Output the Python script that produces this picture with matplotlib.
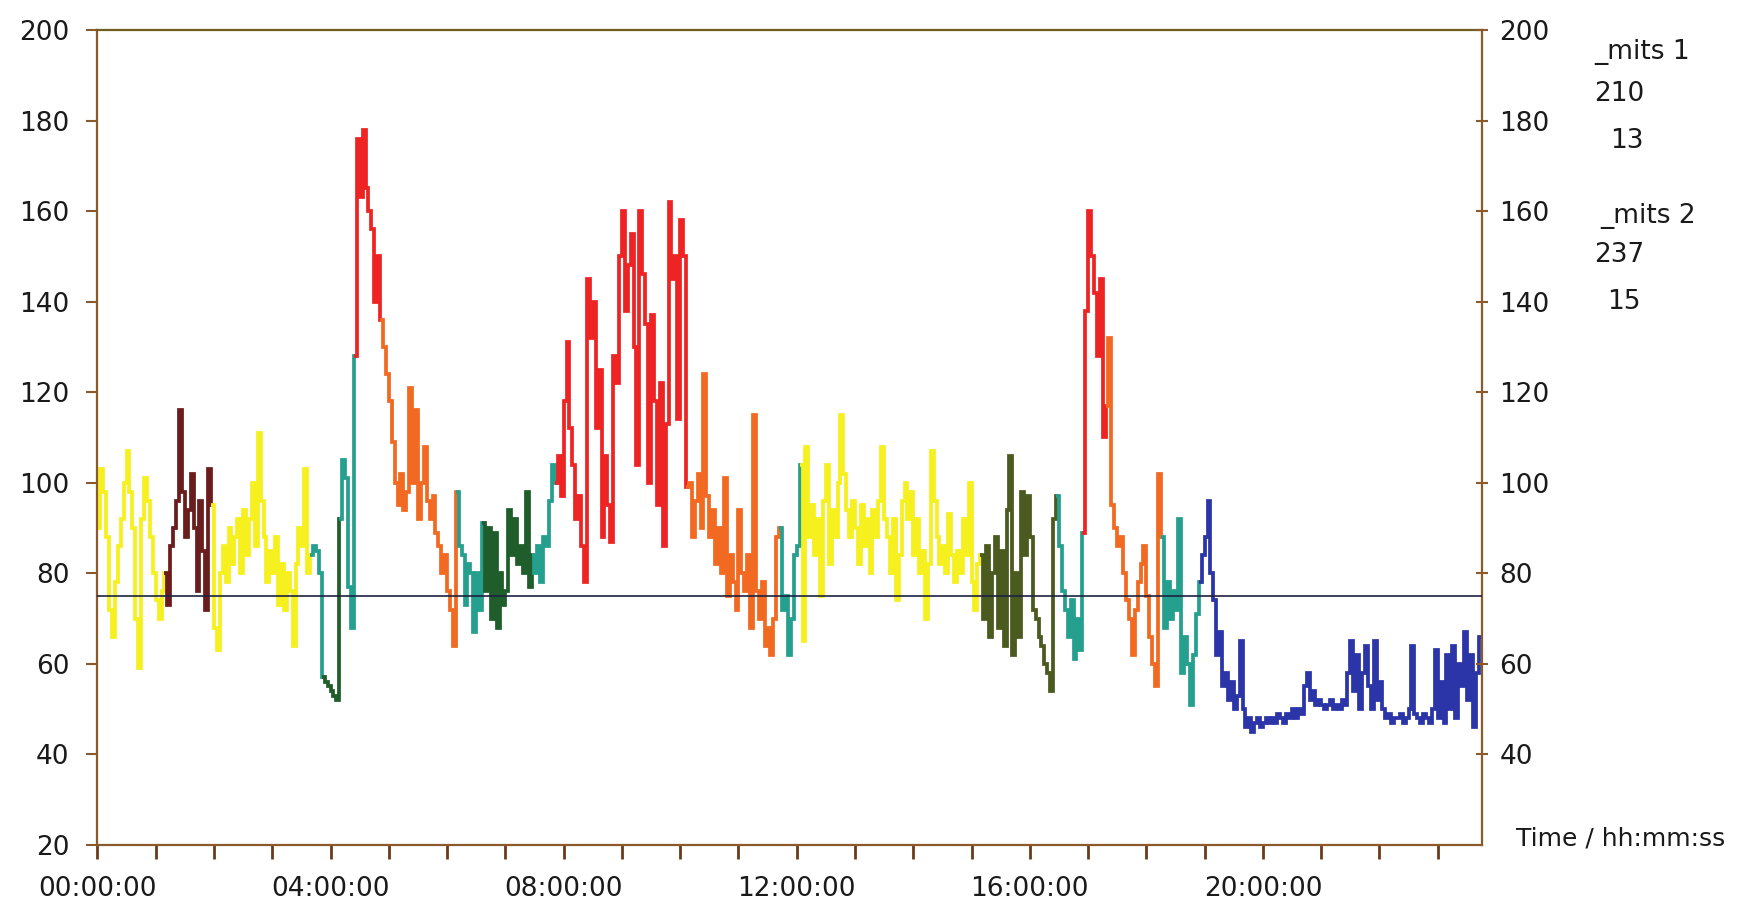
"""24 h heart rate trace, coloured by activity zone"""
import numpy as np
import matplotlib
matplotlib.use('Agg')
import matplotlib.pyplot as plt
from matplotlib.ticker import MultipleLocator, FixedLocator

# heart rate sampled every 3 min (0.05 h), one row per hour
hr = [
    90, 103, 98, 88, 72, 66, 78, 86, 92, 100, 107, 98, 90, 70, 59, 92, 101, 96, 88, 80,
    74, 70, 76, 80, 73, 86, 90, 96, 116, 98, 88, 94, 102, 90, 76, 96, 85, 72, 103, 95,
    68, 63, 80, 86, 78, 90, 82, 88, 92, 80, 94, 84, 92, 100, 86, 111, 96, 88, 78, 85,
    80, 88, 73, 82, 72, 80, 76, 64, 82, 90, 86, 103, 80, 84, 86, 85, 80, 57, 56, 55,
    54, 53, 52, 92, 105, 101, 77, 68, 128, 176, 163, 178, 165, 160, 156, 140, 150, 136, 130, 124,
    118, 109, 100, 95, 102, 94, 98, 121, 100, 116, 92, 100, 108, 96, 92, 97, 89, 86, 80, 84,
    76, 72, 64, 98, 86, 84, 73, 82, 80, 67, 80, 72, 91, 76, 90, 70, 89, 68, 80, 73,
    76, 94, 84, 92, 82, 86, 80, 98, 77, 84, 80, 86, 78, 88, 86, 96, 104, 100, 106, 97,
    118, 131, 112, 104, 92, 97, 86, 78, 145, 132, 140, 112, 125, 88, 106, 95, 87, 128, 122, 150,
    160, 138, 148, 155, 130, 104, 160, 146, 135, 100, 137, 118, 95, 122, 86, 113, 162, 145, 150, 114,
    158, 150, 99, 100, 88, 96, 102, 90, 124, 97, 88, 94, 82, 90, 80, 101, 75, 84, 78, 72,
    94, 80, 76, 84, 68, 115, 76, 70, 78, 64, 68, 62, 70, 88, 90, 72, 75, 62, 70, 84,
    86, 104, 65, 108, 88, 95, 84, 92, 75, 96, 104, 82, 94, 88, 100, 115, 102, 94, 88, 96,
    90, 82, 95, 86, 92, 80, 94, 88, 96, 108, 92, 88, 80, 92, 74, 84, 96, 100, 92, 98,
    84, 92, 80, 85, 70, 82, 107, 96, 88, 82, 86, 80, 93, 84, 78, 85, 80, 92, 84, 100,
    78, 72, 82, 84, 70, 86, 66, 80, 88, 68, 85, 64, 94, 106, 62, 80, 66, 98, 84, 97,
    88, 72, 70, 66, 64, 60, 58, 54, 92, 97, 86, 76, 72, 66, 74, 61, 70, 63, 89, 138,
    160, 150, 142, 128, 145, 110, 117, 132, 95, 90, 86, 88, 80, 74, 70, 62, 72, 78, 82, 86,
    75, 66, 60, 55, 102, 88, 68, 78, 70, 76, 72, 92, 58, 66, 60, 51, 62, 71, 78, 84,
    88, 96, 80, 74, 62, 67, 55, 58, 52, 56, 50, 53, 65, 50, 46, 48, 45, 47, 48, 46,
    47, 48, 47, 48, 47, 49, 48, 47, 49, 48, 50, 48, 50, 49, 55, 58, 52, 54, 51, 52,
    51, 50, 51, 52, 50, 51, 50, 52, 51, 58, 65, 54, 62, 50, 58, 64, 55, 50, 65, 52,
    56, 50, 48, 49, 47, 48, 48, 49, 47, 48, 50, 64, 49, 48, 47, 49, 48, 47, 50, 63,
    48, 56, 47, 62, 50, 64, 48, 60, 55, 67, 52, 62, 46, 58, 66,
]
step_h = 0.05

# zone start (hours) and zone colour
zone_start = [0.0, 1.12, 1.92, 3.62, 3.82, 4.12, 4.38, 4.84, 6.12, 6.58, 7.42, 7.82,
              10.08, 11.67, 12.02, 15.12, 16.42, 16.88, 17.28, 18.22, 18.88]
zone_color = ['#F5F01E', '#6B1C1C', '#F5F01E', '#26A08E', '#1F5E2A', '#26A08E', '#EE2424',
              '#F26A22', '#26A08E', '#1F5E2A', '#26A08E', '#EE2424', '#F26A22', '#26A08E',
              '#F5F01E', '#4B5A1E', '#26A08E', '#EE2424', '#F26A22', '#26A08E', '#2B35A8']

ref_level = 75
yticks = [20, 40, 60, 80, 100, 120, 140, 160, 180, 200]
yticks_right = [40, 60, 80, 100, 120, 140, 160, 180, 200]
xlabel_hours = [0, 4, 8, 12, 16, 20]
xlabels = ['00:00:00', '04:00:00', '08:00:00', '12:00:00', '16:00:00', '20:00:00']
side_text = ['_mits 1', '210', '13', '_mits 2', '237', '15']

hr = np.array(hr, dtype=float)
edges = np.arange(len(hr) + 1) * step_h

fig = plt.figure(figsize=(17.37, 9.11), dpi=100)
ax = fig.add_axes([0.0561, 0.0725, 0.7971, 0.8946])

starts = np.searchsorted(edges[:-1], zone_start)
ends = list(starts[1:]) + [len(hr)]
for i0, i1, col in zip(starts, ends, zone_color):
    j1 = min(i1 + 1, len(hr))  # run one step into next zone so the jump is drawn
    ax.stairs(hr[i0:j1], edges[i0:j1 + 1], baseline=None, color=col, lw=2.7)

ax.axhline(ref_level, color='#1C2340', lw=1.2, zorder=5)

ax.set_xlim(0, edges[-1] + 0.01)
ax.set_ylim(20, 200)

spine_col = '#8A5A2A'
for side in ['left', 'right', 'bottom', 'top']:
    ax.spines[side].set_color(spine_col)
    ax.spines[side].set_linewidth(1.6)
ax.spines['top'].set_color('#6E5E1E')

ax.set_yticks(yticks)
ax.tick_params(axis='y', direction='out', length=8, width=1.5, color=spine_col,
               labelsize=19, pad=12, labelcolor='#1A1A1A')
ax.xaxis.set_major_locator(FixedLocator(xlabel_hours))
ax.set_xticklabels(xlabels)
ax.xaxis.set_minor_locator(MultipleLocator(1))
ax.tick_params(axis='x', which='both', direction='out', length=10, width=2,
               color='#6B3A1A', labelsize=19, pad=12, labelcolor='#1A1A1A')

ax2 = ax.twinx()
ax2.set_ylim(20, 200)
ax2.set_yticks(yticks_right)
ax2.tick_params(axis='y', direction='inout', length=9, width=1.5, color=spine_col,
                labelsize=19, pad=8, labelcolor='#1A1A1A')
for side in ['left', 'right', 'bottom', 'top']:
    ax2.spines[side].set_visible(False)

fig.text(0.918, 0.943, side_text[0], fontsize=19, va='center', color='#1A1A1A')
fig.text(0.918, 0.897, side_text[1], fontsize=19, va='center', color='#1A1A1A')
fig.text(0.927, 0.845, side_text[2], fontsize=19, va='center', color='#1A1A1A')
fig.text(0.921, 0.763, side_text[3], fontsize=19, va='center', color='#1A1A1A')
fig.text(0.918, 0.720, side_text[4], fontsize=19, va='center', color='#1A1A1A')
fig.text(0.925, 0.668, side_text[5], fontsize=19, va='center', color='#1A1A1A')
fig.text(0.873, 0.080, 'Time / hh:mm:ss', fontsize=18, va='center', color='#1A1A1A')

fig.savefig('out.png', dpi=100, facecolor='white')
